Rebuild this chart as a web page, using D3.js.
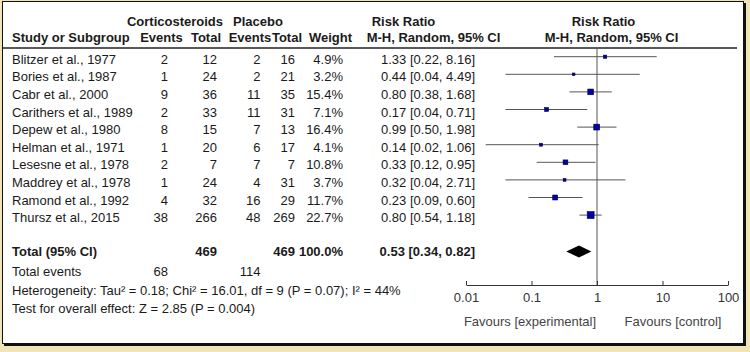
<!DOCTYPE html>
<html>
<head>
<meta charset="utf-8">
<script src="https://cdn.jsdelivr.net/npm/d3@7"></script>
<style>
  html, body { margin: 0; padding: 0; background: #f1e5b8; }
  svg { display: block; }
  text { font-family: "Liberation Sans", Arial, sans-serif; font-size: 13px; fill: #1a1a1a; }
  .b { font-weight: bold; }
</style>
</head>
<body>
<svg id="chart" width="750" height="352"></svg>
<script>
// ---- data ----
const studies = ["Blitzer et al., 1977", "Bories et al., 1987", "Cabr et al., 2000", "Carithers et al., 1989",
  "Depew et al., 1980", "Helman et al., 1971", "Lesesne et al., 1978", "Maddrey et al., 1978",
  "Ramond et al., 1992", "Thursz et al., 2015"];
const eventsC = [2, 1, 9, 2, 8, 1, 2, 1, 4, 38];
const totalC  = [12, 24, 36, 33, 15, 20, 7, 24, 32, 266];
const eventsP = [2, 2, 11, 11, 7, 6, 7, 4, 16, 48];
const totalP  = [16, 21, 35, 31, 13, 17, 7, 31, 29, 269];
const weights = [4.9, 3.2, 15.4, 7.1, 16.4, 4.1, 10.8, 3.7, 11.7, 22.7];
const rr = [1.33, 0.44, 0.80, 0.17, 0.99, 0.14, 0.33, 0.32, 0.23, 0.80];
const lo = [0.22, 0.04, 0.38, 0.04, 0.50, 0.02, 0.12, 0.04, 0.09, 0.54];
const hi = [8.16, 4.49, 1.68, 0.71, 1.98, 1.06, 0.95, 2.71, 0.60, 1.18];
const pooled = [0.53, 0.34, 0.82];
const totals = ["469", "469", "100.0%"];
const totalEvents = ["68", "114"];
const tickValues = [0.01, 0.1, 1, 10, 100];
const tickLabels = ["0.01", "0.1", "1", "10", "100"];
const footnotes = ["Heterogeneity: Tau\u00b2 = 0.18; Chi\u00b2 = 16.01, df = 9 (P = 0.07); I\u00b2 = 44%",
  "Test for overall effect: Z = 2.85 (P = 0.004)"];

// ---- drawing ----
const svg = d3.select("#chart");
const f2 = d3.format(".2f");

// frame with shadow
svg.append("rect").attr("x", 4).attr("y", 3).attr("width", 742).attr("height", 343).attr("fill", "#111");
svg.append("rect").attr("x", 2.5).attr("y", 1.5).attr("width", 741).attr("height", 342)
  .attr("fill", "#fff").attr("stroke", "#111").attr("stroke-width", 1);

const x = d3.scaleLog().domain([0.01, 100]).range([466, 728]);
const y = d3.scaleLinear().domain([0, studies.length - 1]).range([59.2, 217.6]);
const base = 4.6;   // text centre -> baseline
const plotOff = -2.5;

function txt(xp, yp, s, anchor, bold, color) {
  const t = svg.append("text").attr("x", xp).attr("y", yp).attr("text-anchor", anchor || "start").text(s);
  if (bold) t.attr("class", "b");
  if (color) t.style("fill", color);
  return t;
}

// headers
txt(175, 26, "Corticosteroids", "middle", true);
txt(258, 26, "Placebo", "middle", true);
txt(403.5, 26, "Risk Ratio", "middle", true);
txt(603.5, 26, "Risk Ratio", "middle", true);
txt(12, 41.5, "Study or Subgroup", "start", true);
txt(161.5, 41.5, "Events", "middle", true);
txt(206, 41.5, "Total", "middle", true);
txt(250, 41.5, "Events", "middle", true);
txt(287, 41.5, "Total", "middle", true);
txt(330.5, 41.5, "Weight", "middle", true);
txt(433.5, 41.5, "M-H, Random, 95% CI", "middle", true);
txt(611.5, 41.5, "M-H, Random, 95% CI", "middle", true);

svg.append("line").attr("x1", 3).attr("x2", 737).attr("y1", 48).attr("y2", 48)
  .attr("stroke", "#222").attr("stroke-width", 1.3);

// study rows
studies.forEach((s, i) => {
  const yc = y(i) + base;
  txt(12, yc, s);
  txt(168, yc, eventsC[i], "end");
  txt(217, yc, totalC[i], "end");
  txt(260.5, yc, eventsP[i], "end");
  txt(295, yc, totalP[i], "end");
  txt(343, yc, weights[i].toFixed(1) + "%", "end");
  txt(475, yc, `${f2(rr[i])} [${f2(lo[i])}, ${f2(hi[i])}]`, "end");
});

// total row
const yTot = 251.5;
txt(12, yTot + base, "Total (95% CI)", "start", true);
txt(217, yTot + base, totals[0], "end", true);
txt(295, yTot + base, totals[1], "end", true);
txt(343, yTot + base, totals[2], "end", true);
txt(475, yTot + base, `${f2(pooled[0])} [${f2(pooled[1])}, ${f2(pooled[2])}]`, "end", true);
txt(12, 271.3 + base, "Total events");
txt(168, 271.3 + base, totalEvents[0], "end");
txt(260.5, 271.3 + base, totalEvents[1], "end");
txt(12, 290 + base, footnotes[0]);
txt(12, 308.7 + base, footnotes[1]);

// null line
svg.append("line").attr("x1", x(1)).attr("x2", x(1)).attr("y1", 48).attr("y2", 285)
  .attr("stroke", "#555").attr("stroke-width", 1);

// CI lines and squares
const g = svg.append("g");
g.selectAll("line.ci").data(studies).join("line").attr("class", "ci")
  .attr("x1", (d, i) => x(lo[i])).attr("x2", (d, i) => x(hi[i]))
  .attr("y1", (d, i) => y(i) + plotOff).attr("y2", (d, i) => y(i) + plotOff)
  .attr("stroke", "#555").attr("stroke-width", 1);
g.selectAll("rect.sq").data(studies).join("rect").attr("class", "sq")
  .each(function (d, i) {
    const s = Math.max(2.5, 1.45 * Math.sqrt(weights[i]));
    d3.select(this).attr("x", x(rr[i]) - s / 2).attr("y", y(i) + plotOff - s / 2)
      .attr("width", s).attr("height", s);
  })
  .attr("fill", "#0000a8").attr("stroke", "#000030").attr("stroke-width", 0.6);

// diamond
const dh = 6;
svg.append("path")
  .attr("d", `M${x(pooled[1])},${yTot} L${x(pooled[0])},${yTot - dh} L${x(pooled[2])},${yTot} L${x(pooled[0])},${yTot + dh} Z`)
  .attr("fill", "#000");

// axis
const axis = d3.axisBottom(x).tickValues(tickValues).tickFormat((d, i) => tickLabels[i])
  .tickSizeInner(-4).tickSizeOuter(0).tickPadding(8);
const ag = svg.append("g").attr("transform", "translate(0,285)").call(axis);
ag.selectAll("path, line").attr("stroke", "#333");
ag.selectAll("text").style("font-family", '"Liberation Sans", Arial, sans-serif')
  .style("font-size", "13px").style("fill", "#333");

txt(530, 325.5, "Favours [experimental]", "middle", false, "#444");
txt(673, 325.5, "Favours [control]", "middle", false, "#444");
</script>
</body>
</html>
